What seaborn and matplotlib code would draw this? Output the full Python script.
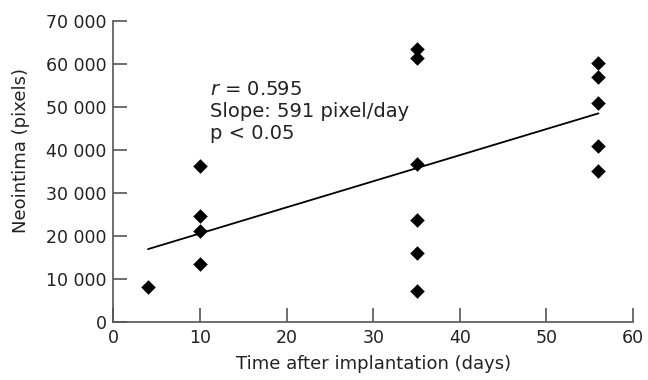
import numpy as np
import pandas as pd
import matplotlib
matplotlib.use('Agg')
import matplotlib.pyplot as plt
import seaborn as sns
from matplotlib.ticker import FuncFormatter

# Data
days = [4, 10, 10, 10, 10, 35, 35, 35, 35, 35, 35, 56, 56, 56, 56, 56]
neointima = [8000, 36300, 24700, 21000, 13400,
             63400, 61300, 36700, 23700, 16000, 7050,
             60200, 56900, 50900, 40800, 35000]
fit_days = [4, 56]
fit_neointima = [16900, 48500]
xticks = [0, 10, 20, 30, 40, 50, 60]
yticks = [0, 10000, 20000, 30000, 40000, 50000, 60000, 70000]

df = pd.DataFrame({'days': days, 'neointima': neointima})

sns.set_style('white')
plt.rcParams['font.family'] = ['DejaVu Sans']

fig = plt.figure(figsize=(6.48, 3.80), dpi=100)
ax = fig.add_axes([0.175, 0.1534, 0.802, 0.7913])

sns.scatterplot(data=df, x='days', y='neointima', marker='D', s=55,
                color='black', edgecolor='black', linewidth=0, ax=ax, zorder=3)
sns.lineplot(x=fit_days, y=fit_neointima, color='black', linewidth=1.3, ax=ax)

ax.set_xlim(0, 60)
ax.set_ylim(0, 70000)
ax.set_xticks(xticks)
ax.set_yticks(yticks)
ax.yaxis.set_major_formatter(FuncFormatter(lambda v, p: f'{int(v):,}'.replace(',', ' ')))

for s in ['top', 'right']:
    ax.spines[s].set_visible(False)
for s in ['left', 'bottom']:
    ax.spines[s].set_color('#555555')
    ax.spines[s].set_linewidth(1.2)

ax.tick_params(axis='both', which='major', bottom=True, left=True, direction='in',
               length=10, width=1.2, color='#555555',
               labelsize=12.5, labelcolor='#222222', pad=5)

ax.set_xlabel('Time after implantation (days)', fontsize=13, color='#222222', labelpad=6)
ax.set_ylabel('Neointima (pixels)', fontsize=13, color='#222222')
ax.yaxis.set_label_coords(-0.16, 0.571)

ax.text(11.2, 56300, '$r$ = 0.595\nSlope: 591 pixel/day\np < 0.05',
        fontsize=14, color='#222222', va='top', ha='left', linespacing=1.2)

fig.savefig('out.png', dpi=100)
